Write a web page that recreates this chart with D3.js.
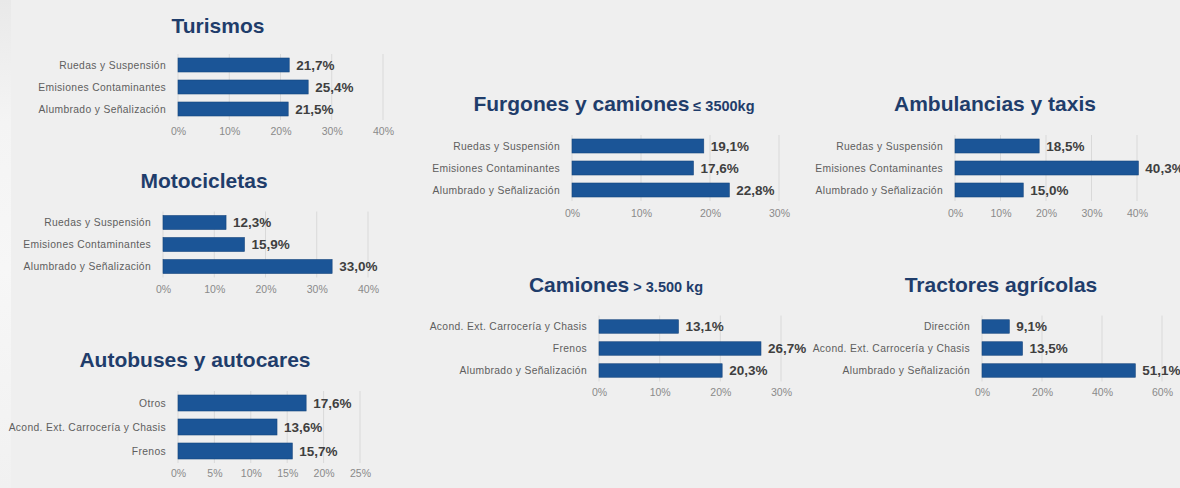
<!DOCTYPE html>
<html>
<head>
<meta charset="utf-8">
<script src="https://cdn.jsdelivr.net/npm/d3@7"></script>
<style>
html,body{margin:0;padding:0;background:#efefef;}
svg{display:block;}
</style>
</head>
<body>
<svg id="chart" width="1180" height="488"></svg>
<script>
// ---- DATA ----
const turismosCats = ["Ruedas y Suspensión", "Emisiones Contaminantes", "Alumbrado y Señalización"];
const turismosVals = [21.7, 25.4, 21.5];
const turismosTicks = [0, 10, 20, 30, 40];

const motoCats = ["Ruedas y Suspensión", "Emisiones Contaminantes", "Alumbrado y Señalización"];
const motoVals = [12.3, 15.9, 33.0];
const motoTicks = [0, 10, 20, 30, 40];

const autobusCats = ["Otros", "Acond. Ext. Carrocería y Chasis", "Frenos"];
const autobusVals = [17.6, 13.6, 15.7];
const autobusTicks = [0, 5, 10, 15, 20, 25];

const furgonCats = ["Ruedas y Suspensión", "Emisiones Contaminantes", "Alumbrado y Señalización"];
const furgonVals = [19.1, 17.6, 22.8];
const furgonTicks = [0, 10, 20, 30];

const ambulCats = ["Ruedas y Suspensión", "Emisiones Contaminantes", "Alumbrado y Señalización"];
const ambulVals = [18.5, 40.3, 15.0];
const ambulTicks = [0, 10, 20, 30, 40];

const camionCats = ["Acond. Ext. Carrocería y Chasis", "Frenos", "Alumbrado y Señalización"];
const camionVals = [13.1, 26.7, 20.3];
const camionTicks = [0, 10, 20, 30];

const tractorCats = ["Dirección", "Acond. Ext. Carrocería y Chasis", "Alumbrado y Señalización"];
const tractorVals = [9.1, 13.5, 51.1];
const tractorTicks = [0, 20, 40, 60];

// ---- LAYOUT ----
const panels = [
  {title:"Turismos", sub:null, cats:turismosCats, vals:turismosVals, ticks:turismosTicks, max:40,
   x0:178, x1:383, y0:54, y1:120, bh:14, tickY:140, tx:218, ty:33},
  {title:"Motocicletas", sub:null, cats:motoCats, vals:motoVals, ticks:motoTicks, max:40,
   x0:163, x1:368, y0:211.5, y1:277.5, bh:14, tickY:298, tx:204, ty:188},
  {title:"Autobuses y autocares", sub:null, cats:autobusCats, vals:autobusVals, ticks:autobusTicks, max:25,
   x0:178, x1:360, y0:391, y1:463, bh:16, tickY:482, tx:195, ty:367},
  {title:"Furgones y camiones", sub:"≤ 3500kg", cats:furgonCats, vals:furgonVals, ticks:furgonTicks, max:30,
   x0:572, x1:779, y0:135, y1:201, bh:14, tickY:222, tx:614, ty:111},
  {title:"Ambulancias y taxis", sub:null, cats:ambulCats, vals:ambulVals, ticks:ambulTicks, max:50,
   x0:955, x1:1182.5, y0:135, y1:201, bh:14, tickY:222, tx:995, ty:111},
  {title:"Camiones", sub:"> 3.500 kg", cats:camionCats, vals:camionVals, ticks:camionTicks, max:30,
   x0:599, x1:781, y0:315.5, y1:381.5, bh:13.5, tickY:401, tx:616, ty:292},
  {title:"Tractores agrícolas", sub:null, cats:tractorCats, vals:tractorVals, ticks:tractorTicks, max:60,
   x0:982, x1:1162, y0:315.5, y1:381.5, bh:13.5, tickY:401, tx:1001, ty:292}
];

const svg = d3.select("#chart");
const defs = svg.append("defs");
const lg = defs.append("linearGradient").attr("id","leftStrip").attr("x1",0).attr("x2",0).attr("y1",0).attr("y2",1);
lg.append("stop").attr("offset","0%").attr("stop-color","#e9e9e9");
lg.append("stop").attr("offset","25%").attr("stop-color","#f4f4f4");
lg.append("stop").attr("offset","55%").attr("stop-color","#f7f7f7");
lg.append("stop").attr("offset","100%").attr("stop-color","#f1f1f1");
svg.append("rect").attr("width",1180).attr("height",488).attr("fill","#efefef");
svg.append("rect").attr("width",11).attr("height",488).attr("fill","url(#leftStrip)");

const fmt = v => d3.format(".1f")(v).replace(".", ",") + "%";

panels.forEach(p => {
  const g = svg.append("g");
  const x = d3.scaleLinear().domain([0, p.max]).range([p.x0, p.x1]);
  const step = (p.y1 - p.y0) / p.cats.length;
  const pin = 1 - p.bh / step;
  const y = d3.scaleBand().domain(p.cats).range([p.y0, p.y1]).paddingInner(pin).paddingOuter(pin / 2);

  // title
  const t = g.append("text").attr("x", p.tx).attr("y", p.ty).attr("text-anchor","middle")
    .attr("font-family","'Liberation Sans', Arial, sans-serif").attr("font-weight","bold")
    .attr("fill","#1f3d6b");
  t.append("tspan").attr("font-size", 21).text(p.title);
  if (p.sub) t.append("tspan").attr("font-size", 14.5).attr("dx", 4).text(p.sub);

  // gridlines
  g.selectAll("line.grid").data(p.ticks).join("line").attr("class","grid")
    .attr("x1", d => x(d)).attr("x2", d => x(d))
    .attr("y1", p.y0).attr("y2", p.y1)
    .attr("stroke","#d9d9d9").attr("stroke-width",1);

  // tick labels via axis
  const ax = g.append("g").attr("transform", `translate(0,${p.tickY - 12})`)
    .call(d3.axisBottom(x).tickValues(p.ticks).tickFormat(d => d + "%").tickSize(0).tickPadding(0));
  ax.select(".domain").remove();
  ax.selectAll("text").attr("font-family","'Liberation Sans', Arial, sans-serif")
    .attr("font-size", 10.5).attr("fill","#8a8a8a").attr("dy","0.71em");

  // category labels
  g.selectAll("text.cat").data(p.cats).join("text").attr("class","cat")
    .attr("x", p.x0 - 12).attr("y", d => y(d) + y.bandwidth() / 2)
    .attr("dy","0.35em").attr("text-anchor","end")
    .attr("font-family","'Liberation Sans', Arial, sans-serif").attr("font-size", 10.3)
    .attr("letter-spacing", 0.35)
    .attr("fill","#5e5e5e").text(d => d);

  // bars
  g.selectAll("rect.bar").data(p.cats).join("rect").attr("class","bar")
    .attr("x", x(0)).attr("y", d => y(d))
    .attr("width", (d, i) => x(p.vals[i]) - x(0)).attr("height", y.bandwidth())
    .attr("fill","#1b5597").attr("stroke","#16467e").attr("stroke-width",0.6);

  // value labels
  g.selectAll("text.val").data(p.cats).join("text").attr("class","val")
    .attr("x", (d, i) => x(p.vals[i]) + 7).attr("y", d => y(d) + y.bandwidth() / 2)
    .attr("dy","0.36em")
    .attr("font-family","'Liberation Sans', Arial, sans-serif").attr("font-weight","bold")
    .attr("font-size", 13.5).attr("fill","#3f3f3f")
    .text((d, i) => fmt(p.vals[i]));
});
</script>
</body>
</html>
